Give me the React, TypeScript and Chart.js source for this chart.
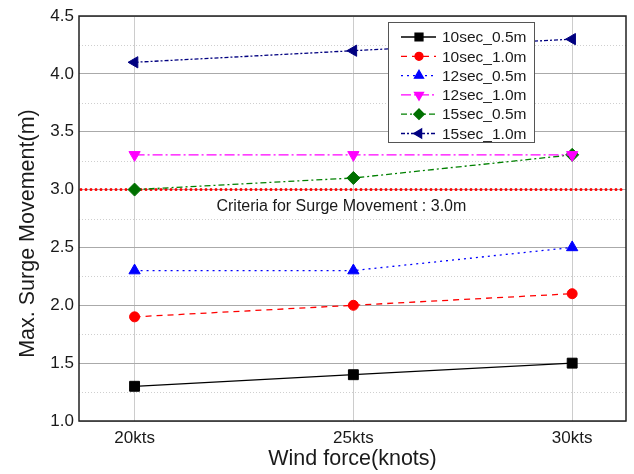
import React, { useEffect, useRef } from 'react';
import { Chart, registerables } from 'chart.js';
import { drawPoint } from 'chart.js/helpers';

Chart.register(...registerables);

// ---- data ----
const windForce = [20, 25, 30];
const windLabels = ['20kts', '25kts', '30kts'];
const seriesNames = ['10sec_0.5m', '10sec_1.0m', '12sec_0.5m', '12sec_1.0m', '15sec_0.5m', '15sec_1.0m'];
const surge10s05 = [1.3, 1.4, 1.5];
const surge10s10 = [1.9, 2.0, 2.1];
const surge12s05 = [2.3, 2.3, 2.5];
const surge12s10 = [3.3, 3.3, 3.3];
const surge15s05 = [3.0, 3.1, 3.3];
const surge15s10 = [4.1, 4.2, 4.3];
const criteriaValue = 3.0;
const criteriaText = 'Criteria for Surge Movement : 3.0m';
const xTitle = 'Wind force(knots)';
const yTitle = 'Max. Surge Movement(m)';
const yMin = 1.0;
const yMax = 4.5;

const seriesValues = [surge10s05, surge10s10, surge12s05, surge12s10, surge15s05, surge15s10];

// ---- styles ----
const seriesStyles = [
  { color: '#000000', fill: '#000000', dash: [], pointStyle: 'rect', radius: 7, rotation: 0 },
  { color: '#ff0000', fill: '#ff0000', dash: [6, 5], pointStyle: 'circle', radius: 5, rotation: 0 },
  { color: '#0000ff', fill: '#0000ff', dash: [2, 4], pointStyle: 'triangle', radius: 6.5, rotation: 0 },
  { color: '#ff00ff', fill: '#ff00ff', dash: [10, 3, 2, 3], pointStyle: 'triangle', radius: 6.5, rotation: 180 },
  { color: '#008000', fill: '#007000', dash: [6, 3, 2, 3], pointStyle: 'rectRot', radius: 6.5, rotation: 0 },
  { color: '#000080', fill: '#000080', dash: [4, 2, 2, 2], pointStyle: 'triangle', radius: 6.5, rotation: -90 },
];

const FONT = "'Liberation Sans', Arial, sans-serif";
const TEXT = '#1a1a1a';
Chart.defaults.font.family = FONT;
Chart.defaults.color = TEXT;

// x range leaves a margin on both sides of the outer categories
const xMin = 18.73;
const xMax = 31.23;

const decorPlugin = {
  id: 'surgeDecor',
  beforeDatasetsDraw(chart: any) {
    const { ctx, chartArea, scales } = chart;
    const y = scales.y;
    ctx.save();
    // minor dotted grid at quarter steps
    ctx.strokeStyle = '#cfcfcf';
    ctx.lineWidth = 1;
    ctx.setLineDash([1, 2]);
    for (let v = yMin + 0.25; v < yMax; v += 0.5) {
      const py = Math.round(y.getPixelForValue(v)) + 0.5;
      ctx.beginPath();
      ctx.moveTo(chartArea.left, py);
      ctx.lineTo(chartArea.right, py);
      ctx.stroke();
    }
    // criteria line
    const cy = y.getPixelForValue(criteriaValue);
    ctx.strokeStyle = '#ff0000';
    ctx.lineWidth = 3;
    ctx.lineCap = 'round';
    ctx.setLineDash([0, 5]);
    ctx.beginPath();
    ctx.moveTo(chartArea.left + 2, cy);
    ctx.lineTo(chartArea.right - 1, cy);
    ctx.stroke();
    ctx.setLineDash([]);
    // criteria caption
    ctx.fillStyle = TEXT;
    ctx.font = `16px ${FONT}`;
    ctx.textAlign = 'center';
    ctx.textBaseline = 'middle';
    ctx.fillText(criteriaText, scales.x.getPixelForValue(windForce[1]) - 12, y.getPixelForValue(criteriaValue - 0.15));
    ctx.restore();
  },
  afterDraw(chart: any) {
    const { ctx, chartArea, scales } = chart;
    ctx.save();
    // plot frame
    ctx.strokeStyle = '#222222';
    ctx.lineWidth = 1.5;
    ctx.strokeRect(chartArea.left, chartArea.top, chartArea.right - chartArea.left, chartArea.bottom - chartArea.top);

    // y axis title, set a little below the axis middle
    ctx.fillStyle = TEXT;
    ctx.font = `21.5px ${FONT}`;
    ctx.textAlign = 'center';
    ctx.textBaseline = 'middle';
    ctx.translate(28.5, scales.y.getPixelForValue(2.62));
    ctx.rotate(-Math.PI / 2);
    ctx.fillText(yTitle, 0, 0);
    ctx.setTransform(1, 0, 0, 1, 0, 0);

    // legend box
    const bw = 146;
    const bh = 120;
    const bx = chartArea.right - 92 - bw;
    const by = chartArea.top + 6;
    ctx.fillStyle = '#ffffff';
    ctx.fillRect(bx, by, bw, bh);
    ctx.strokeStyle = '#555555';
    ctx.lineWidth = 1;
    ctx.strokeRect(bx + 0.5, by + 0.5, bw, bh);
    ctx.font = `15.5px ${FONT}`;
    ctx.textAlign = 'left';
    ctx.textBaseline = 'middle';
    seriesNames.forEach((name, i) => {
      const st = seriesStyles[i];
      const ry = by + 15 + i * 19.3;
      ctx.strokeStyle = st.color;
      ctx.lineWidth = 1.3;
      ctx.setLineDash(st.dash);
      ctx.beginPath();
      ctx.moveTo(bx + 13, ry);
      ctx.lineTo(bx + 48, ry);
      ctx.stroke();
      ctx.setLineDash([]);
      ctx.fillStyle = st.fill;
      ctx.strokeStyle = st.fill;
      drawPoint(ctx, { pointStyle: st.pointStyle as any, radius: st.radius * 0.8, rotation: st.rotation, borderWidth: 1 }, bx + 31, ry);
      ctx.fillStyle = TEXT;
      ctx.fillText(name, bx + 54, ry + 1);
    });
    ctx.restore();
  },
};

export default function App() {
  const canvasRef = useRef<HTMLCanvasElement>(null);

  useEffect(() => {
    const canvas = canvasRef.current;
    if (!canvas) return;
    const chart = new Chart(canvas, {
      type: 'line',
      data: {
        datasets: seriesNames.map((name, i) => {
          const st = seriesStyles[i];
          return {
            label: name,
            data: windForce.map((x, j) => ({ x, y: seriesValues[i][j] })),
            borderColor: st.color,
            backgroundColor: st.fill,
            borderWidth: 1.3,
            borderDash: st.dash,
            pointStyle: st.pointStyle as any,
            pointRadius: st.radius,
            pointRotation: st.rotation,
            pointBackgroundColor: st.fill,
            pointBorderColor: st.fill,
            pointBorderWidth: 1,
            tension: 0,
            fill: false,
          };
        }),
      },
      options: {
        animation: false,
        responsive: false,
        devicePixelRatio: 1,
        layout: { padding: { top: 16, right: 5, left: 0, bottom: 0 } },
        plugins: {
          legend: { display: false },
          tooltip: { enabled: false },
        },
        scales: {
          x: {
            type: 'linear',
            min: xMin,
            max: xMax,
            afterBuildTicks: (scale: any) => {
              scale.ticks = windForce.map((v) => ({ value: v }));
            },
            afterFit: (scale: any) => {
              scale.height = 53;
            },
            ticks: {
              padding: 7,
              font: { size: 17 },
              color: TEXT,
              callback: (_v: any, i: number) => windLabels[i],
            },
            grid: { color: '#cccccc', lineWidth: 1, drawTicks: false },
            border: { display: false },
            title: {
              display: true,
              text: xTitle,
              font: { size: 21.5 },
              color: TEXT,
              padding: { top: 0, bottom: 2 },
            },
          },
          y: {
            type: 'linear',
            min: yMin,
            max: yMax,
            afterFit: (scale: any) => {
              scale.width = 79;
            },
            ticks: {
              stepSize: 0.5,
              padding: 5,
              font: { size: 17 },
              color: TEXT,
              callback: (v: any) => Number(v).toFixed(1),
            },
            grid: { color: '#aaaaaa', lineWidth: 1, drawTicks: false },
            border: { display: false },
            title: { display: false },
          },
        },
      },
      plugins: [decorPlugin],
    });
    return () => chart.destroy();
  }, []);

  return (
    <div style={{ position: 'fixed', left: 0, top: 0, width: 634, height: 474, background: '#ffffff' }}>
      <canvas ref={canvasRef} width={634} height={474} style={{ display: 'block', width: 634, height: 474 }} />
    </div>
  );
}
